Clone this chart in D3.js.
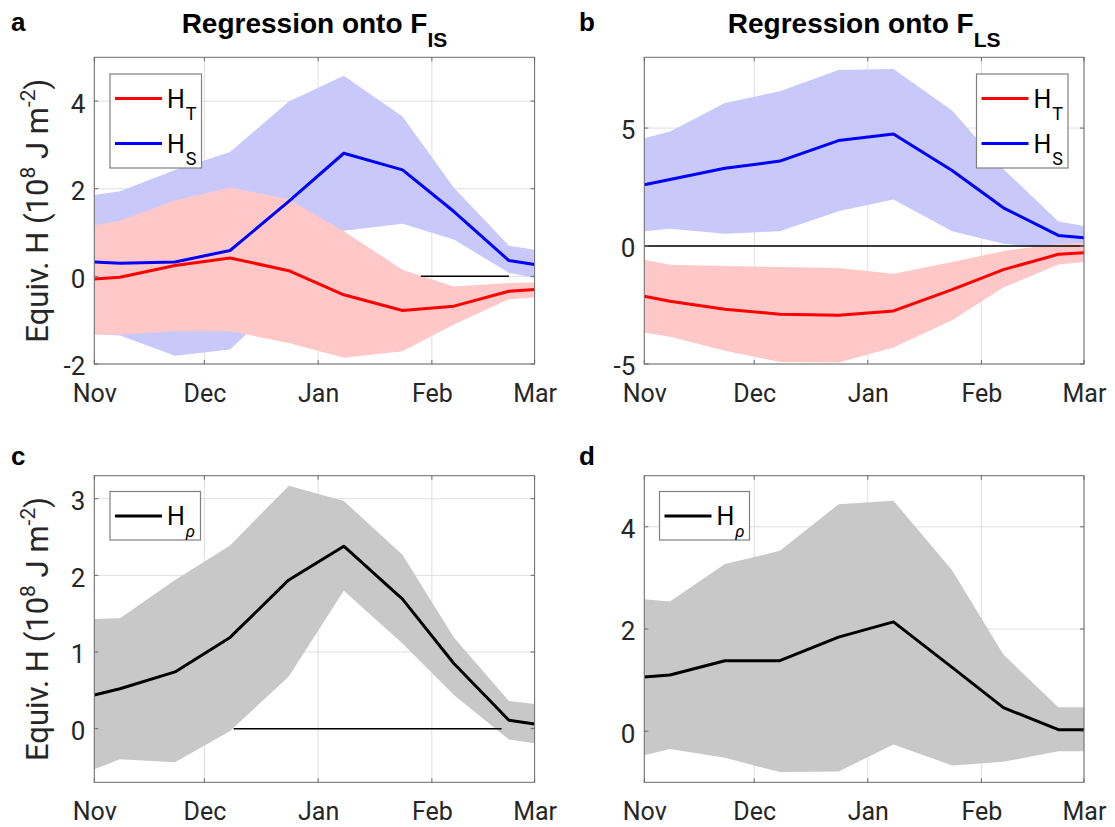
<!DOCTYPE html>
<html>
<head>
<meta charset="utf-8">
<script src="https://cdn.jsdelivr.net/npm/d3@7"></script>
<style>
  body { margin: 0; background: #fff; }
</style>
</head>
<body>
<script>
// sample dates (half-month centres plus the axis ends)
const dates = ["2001-11-01", "2001-11-08", "2001-11-23", "2001-12-08", "2001-12-24",
  "2002-01-08", "2002-01-24", "2002-02-07", "2002-02-22", "2002-03-01"];
const monthTicks = ["2001-11-01", "2001-12-01", "2002-01-01", "2002-02-01", "2002-03-01"];

// panel a : regression onto F_IS
const aHT   = [-0.06, -0.02, 0.25, 0.42, 0.13, -0.42, -0.78, -0.68, -0.34, -0.30];
const aHTlo = [-1.32, -1.33, -1.25, -1.25, -1.52, -1.86, -1.71, -1.10, -0.52, -0.48];
const aHThi = [1.17, 1.27, 1.73, 2.03, 1.76, 1.03, 0.15, -0.23, -0.15, -0.14];
const aHS   = [0.33, 0.30, 0.33, 0.59, 1.71, 2.81, 2.43, 1.48, 0.36, 0.27];
const aHSlo = [-1.32, -1.35, -1.81, -1.67, -0.40, 1.04, 1.20, 0.84, 0.08, -0.04];
const aHShi = [1.86, 1.94, 2.43, 2.84, 3.99, 4.58, 3.65, 2.02, 0.70, 0.61];

// panel b : regression onto F_LS
const bHT   = [-2.13, -2.34, -2.68, -2.89, -2.93, -2.75, -1.85, -1.00, -0.35, -0.28];
const bHTlo = [-3.67, -3.85, -4.44, -4.91, -4.94, -4.30, -3.15, -1.76, -0.78, -0.68];
const bHThi = [-0.58, -0.79, -0.85, -0.89, -0.93, -1.17, -0.68, -0.21, 0.10, 0.13];
const bHS   = [2.60, 2.82, 3.30, 3.60, 4.47, 4.75, 3.20, 1.62, 0.45, 0.35];
const bHSlo = [0.63, 0.73, 0.52, 0.63, 1.47, 1.97, 0.63, 0.10, -0.10, -0.10];
const bHShi = [4.57, 4.85, 6.06, 6.56, 7.46, 7.50, 5.74, 3.27, 1.04, 0.85];

// panel c : H_rho onto F_IS
const cHr   = [0.44, 0.52, 0.74, 1.19, 1.94, 2.38, 1.69, 0.85, 0.11, 0.06];
const cHrlo = [-0.53, -0.40, -0.44, -0.03, 0.68, 1.80, 1.11, 0.44, -0.14, -0.19];
const cHrhi = [1.43, 1.44, 1.94, 2.39, 3.17, 2.97, 2.27, 1.19, 0.36, 0.32];

// panel d : H_rho onto F_LS
const dHr   = [1.06, 1.10, 1.38, 1.38, 1.84, 2.14, 1.25, 0.46, 0.03, 0.03];
const dHrlo = [-0.47, -0.35, -0.52, -0.80, -0.79, -0.26, -0.67, -0.60, -0.39, -0.39];
const dHrhi = [2.58, 2.54, 3.27, 3.53, 4.44, 4.51, 3.15, 1.50, 0.47, 0.47];

// zero reference segments
const aZero = ["2002-01-29", "2002-02-22"];
const bZero = ["2001-11-01", "2002-03-01"];
const cZero = ["2001-12-09", "2002-02-20"];

const aYTicks = [-2, 0, 2, 4];
const bYTicks = [-5, 0, 5];
const cYTicks = [0, 1, 2, 3];
const dYTicks = [0, 2, 4];

const parse = d3.timeParse("%Y-%m-%d");
const T = dates.map(parse);

const svg = d3.select("body").append("svg")
  .attr("width", 1115).attr("height", 827)
  .attr("font-family", "Roboto, 'Noto Sans', sans-serif");

const RED = "#ff0000", BLUE = "#0000ff";
const RED_F = "#ffc8c8", BLUE_F = "#c8c8fa", GRAY_F = "#c8c8c8";
const BOLD_FONT = "'Liberation Sans', Arial, sans-serif";

function panel(opt) {
  const x = d3.scaleTime()
    .domain([parse(monthTicks[0]), parse(monthTicks[4])])
    .range([opt.x0, opt.x1]);
  const y = d3.scaleLinear().domain(opt.ydom).range([opt.y1, opt.y0]);
  const g = svg.append("g");
  const clipId = "clip" + opt.label;
  svg.append("clipPath").attr("id", clipId).append("rect")
    .attr("x", opt.x0).attr("y", opt.y0)
    .attr("width", opt.x1 - opt.x0).attr("height", opt.y1 - opt.y0);

  // grid
  const grid = g.append("g").attr("stroke", "#dfdfdf").attr("stroke-width", 1);
  monthTicks.map(parse).forEach(d => {
    grid.append("line").attr("x1", x(d)).attr("x2", x(d))
      .attr("y1", opt.y0).attr("y2", opt.y1);
  });
  opt.yticks.forEach(v => {
    grid.append("line").attr("y1", y(v)).attr("y2", y(v))
      .attr("x1", opt.x0).attr("x2", opt.x1);
  });

  const plot = g.append("g").attr("clip-path", "url(#" + clipId + ")");
  const area = (lo, hi) => d3.area()
    .x((d, i) => x(T[i])).y0((d, i) => y(lo[i])).y1((d, i) => y(hi[i]))(T);
  const line = vals => d3.line().x((d, i) => x(T[i])).y((d, i) => y(vals[i]))(T);

  opt.bands.forEach(b => {
    plot.append("path").attr("d", area(b.lo, b.hi)).attr("fill", b.fill);
  });
  if (opt.zero) {
    plot.append("line")
      .attr("x1", x(parse(opt.zero[0]))).attr("x2", x(parse(opt.zero[1])))
      .attr("y1", y(0)).attr("y2", y(0))
      .attr("stroke", "#000").attr("stroke-width", 1.5);
  }
  opt.lines.forEach(l => {
    plot.append("path").attr("d", line(l.vals)).attr("fill", "none")
      .attr("stroke", l.color).attr("stroke-width", 3).attr("stroke-linejoin", "round");
  });

  // box and inner ticks
  g.append("rect").attr("x", opt.x0).attr("y", opt.y0)
    .attr("width", opt.x1 - opt.x0).attr("height", opt.y1 - opt.y0)
    .attr("fill", "none").attr("stroke", "#6b6b6b").attr("stroke-width", 1);
  const tk = g.append("g").attr("stroke", "#6b6b6b").attr("stroke-width", 1);
  monthTicks.map(parse).forEach(d => {
    tk.append("line").attr("x1", x(d)).attr("x2", x(d)).attr("y1", opt.y1).attr("y2", opt.y1 - 4);
    tk.append("line").attr("x1", x(d)).attr("x2", x(d)).attr("y1", opt.y0).attr("y2", opt.y0 + 4);
  });
  opt.yticks.forEach(v => {
    tk.append("line").attr("y1", y(v)).attr("y2", y(v)).attr("x1", opt.x0).attr("x2", opt.x0 + 4);
    tk.append("line").attr("y1", y(v)).attr("y2", y(v)).attr("x1", opt.x1).attr("x2", opt.x1 - 4);
  });

  // axes labels
  const xa = g.append("g").attr("transform", `translate(0,${opt.y1})`)
    .call(d3.axisBottom(x).tickValues(monthTicks.map(parse))
      .tickFormat(d3.timeFormat("%b")).tickSize(0));
  xa.select(".domain").remove();
  xa.attr("font-family", null);
  xa.selectAll("text").attr("y", 38).attr("dy", null)
    .attr("font-size", 25).attr("fill", "#262626");

  const ya = g.append("g").attr("transform", `translate(${opt.x0},0)`)
    .call(d3.axisLeft(y).tickValues(opt.yticks).tickFormat(d => String(d))
      .tickSize(0).tickPadding(9));
  ya.select(".domain").remove();
  ya.attr("font-family", null);
  ya.selectAll("text").attr("dy", "0.42em")
    .attr("font-size", 26).attr("fill", "#262626");

  // panel letter
  svg.append("text").attr("x", opt.lx).attr("y", opt.ly)
    .attr("font-family", BOLD_FONT)
    .attr("font-size", 26).attr("font-weight", "bold").text(opt.label);

  // title
  if (opt.title) {
    const t = svg.append("text").attr("x", (opt.x0 + opt.x1) / 2).attr("y", 33)
      .attr("font-family", BOLD_FONT)
      .attr("text-anchor", "middle").attr("font-size", 28).attr("font-weight", "bold");
    t.append("tspan").text("Regression onto F");
    t.append("tspan").attr("font-size", 21).attr("dy", 14).text(opt.title);
  }

  // y label
  if (opt.ylabel) {
    const cy = (opt.y0 + opt.y1) / 2;
    const t = svg.append("text")
      .attr("transform", `translate(48,${cy}) rotate(-90)`)
      .attr("text-anchor", "middle").attr("font-size", 31).attr("fill", "#262626");
    t.append("tspan").text("Equiv. H (10");
    t.append("tspan").attr("font-size", 21).attr("dy", -13).text("8");
    t.append("tspan").attr("dy", 13).text(" J m");
    t.append("tspan").attr("font-size", 21).attr("dy", -13).text("-2");
    t.append("tspan").attr("dy", 13).text(")");
  }

  // legend
  const L = opt.legend;
  const lg = svg.append("g");
  lg.append("rect").attr("x", L.x).attr("y", L.y).attr("width", L.w).attr("height", L.h)
    .attr("fill", "#fff").attr("stroke", "#808080").attr("stroke-width", 1.2);
  L.items.forEach((it, i) => {
    const yy = L.y + 24.5 + i * 45;
    lg.append("line").attr("x1", L.x + 5).attr("x2", L.x + 52)
      .attr("y1", yy).attr("y2", yy).attr("stroke", it.color).attr("stroke-width", 3);
    const t = lg.append("text").attr("x", L.x + 57).attr("y", yy + 9)
      .attr("font-size", 25).attr("fill", "#000");
    t.append("tspan").text("H");
    const s = t.append("tspan").attr("font-size", 18).attr("dy", 12).attr("dx", 1).text(it.sub);
    if (it.sub === "ρ") s.attr("font-style", "italic").attr("font-size", 17);
  });
}

const rowTop = {y0: 57.3, y1: 364}, rowBot = {y0: 475.7, y1: 782.3};
const colLeft = {x0: 94.3, x1: 534.6}, colRight = {x0: 644.3, x1: 1084};

panel({...colLeft, ...rowTop, ydom: [-2, 5], yticks: aYTicks, label: "a", lx: 11, ly: 31,
  title: "IS", ylabel: true, zero: aZero,
  bands: [{lo: aHSlo, hi: aHShi, fill: BLUE_F}, {lo: aHTlo, hi: aHThi, fill: RED_F}],
  lines: [{vals: aHT, color: RED}, {vals: aHS, color: BLUE}],
  legend: {x: 110, y: 74, w: 91.5, h: 94,
    items: [{color: RED, sub: "T"}, {color: BLUE, sub: "S"}]}});

panel({...colRight, ...rowTop, ydom: [-5, 8], yticks: bYTicks, label: "b", lx: 579, ly: 31,
  title: "LS", ylabel: false, zero: bZero,
  bands: [{lo: bHSlo, hi: bHShi, fill: BLUE_F}, {lo: bHTlo, hi: bHThi, fill: RED_F}],
  lines: [{vals: bHT, color: RED}, {vals: bHS, color: BLUE}],
  legend: {x: 976.5, y: 74, w: 91.5, h: 94,
    items: [{color: RED, sub: "T"}, {color: BLUE, sub: "S"}]}});

panel({...colLeft, ...rowBot, ydom: [-0.7, 3.3], yticks: cYTicks, label: "c", lx: 11, ly: 465,
  title: null, ylabel: true, zero: cZero,
  bands: [{lo: cHrlo, hi: cHrhi, fill: GRAY_F}],
  lines: [{vals: cHr, color: "#000"}],
  legend: {x: 110, y: 491.5, w: 90.5, h: 48.5, items: [{color: "#000", sub: "ρ"}]}});

panel({...colRight, ...rowBot, ydom: [-1, 5], yticks: dYTicks, label: "d", lx: 579, ly: 465,
  title: null, ylabel: false, zero: null,
  bands: [{lo: dHrlo, hi: dHrhi, fill: GRAY_F}],
  lines: [{vals: dHr, color: "#000"}],
  legend: {x: 659.5, y: 491.5, w: 90, h: 48.5, items: [{color: "#000", sub: "ρ"}]}});
</script>
</body>
</html>
